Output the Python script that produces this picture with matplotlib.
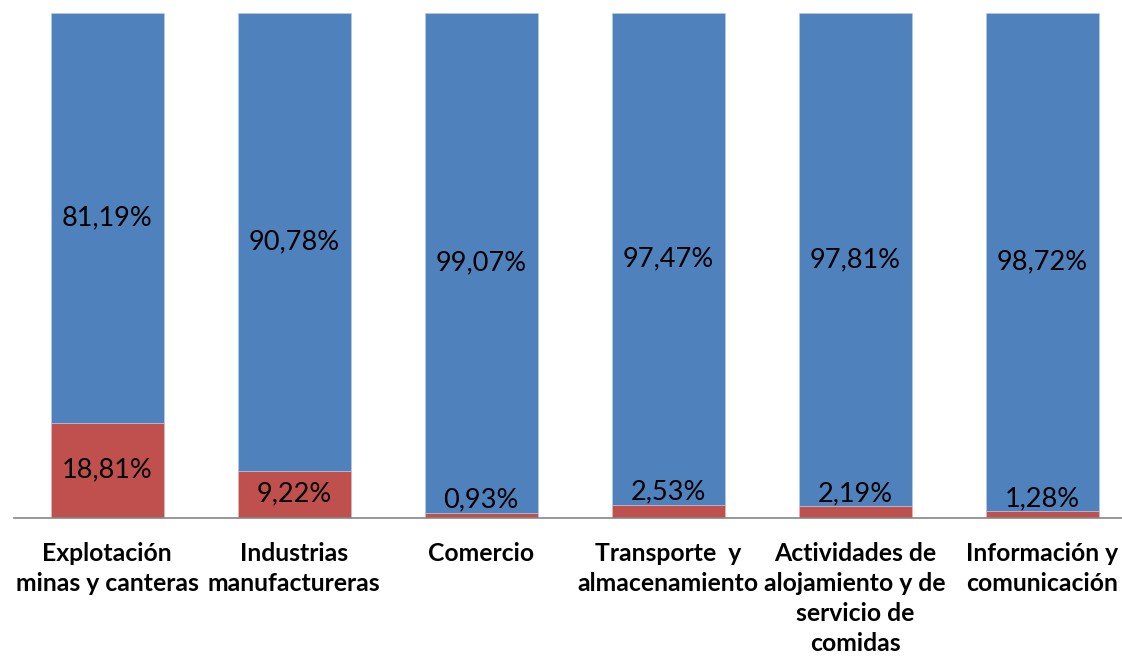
import matplotlib.pyplot as plt

plt.rcParams['font.family'] = ['Lato', 'DejaVu Sans']

categories = [
    "Explotación\nminas y canteras",
    "Industrias\nmanufactureras",
    "Comercio",
    "Transporte  y\nalmacenamiento",
    "Actividades de\nalojamiento y de\nservicio de\ncomidas",
    "Información y\ncomunicación",
]
red_vals = [18.81, 9.22, 0.93, 2.53, 2.19, 1.28]
blue_vals = [81.19, 90.78, 99.07, 97.47, 97.81, 98.72]

BLUE = "#4F81BD"
RED = "#C0504D"

fig = plt.figure(figsize=(11.22, 6.6), dpi=100, facecolor="white")
ax = fig.add_axes([13.5 / 1122, (660 - 517.5) / 660, 1.0, 504.5 / 660])

x = range(len(categories))
w = 113 / 187
ax.bar(x, red_vals, width=w, color=RED, edgecolor="#E6B9B8", linewidth=0.4)
ax.bar(x, blue_vals, width=w, bottom=red_vals, color=BLUE,
       edgecolor="#B9CDE5", linewidth=0.4)

for i, (r, b) in enumerate(zip(red_vals, blue_vals)):
    ax.text(i, r + b / 2, f"{b:.2f}%".replace(".", ","), ha="center",
            va="center", fontsize=19.5, color="black")
    lab = f"{r:.2f}%".replace(".", ",")
    if r > 5:
        ax.text(i, r / 2, lab, ha="center", va="center", fontsize=19.5,
                color="black")
    else:
        ax.annotate(lab, (i, r), xytext=(0, 0), textcoords="offset points",
                    ha="center", va="bottom", fontsize=19.5, color="black")

ax.set_xlim(-0.5, 5.5)
ax.set_ylim(0, 100)
ax.set_yticks([])
ax.set_xticks(list(x))
ax.set_xticklabels(categories, fontsize=17.8, fontweight="bold",
                   linespacing=1.38, va="top")
ax.tick_params(axis="x", length=0, pad=17.5)
for s in ["top", "right", "left"]:
    ax.spines[s].set_visible(False)
ax.spines["bottom"].set_color("#868686")
ax.spines["bottom"].set_linewidth(1.2)

fig.savefig("out.png", dpi=100, facecolor="white")
